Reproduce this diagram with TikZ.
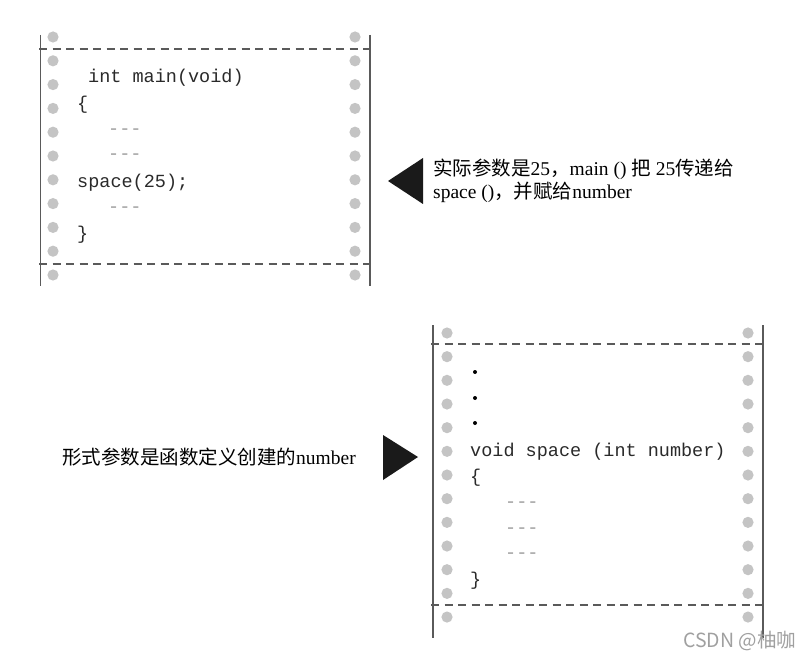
\documentclass[tikz,border=0pt]{standalone}
\usepackage{fontspec}
\setmainfont{Liberation Serif}
\setmonofont{Liberation Mono}
\newfontfamily\cjk{Noto Sans CJK SC}
\usepackage{tikz}
\usetikzlibrary{positioning}
\definecolor{ink}{HTML}{2A2A2A}
\definecolor{rail}{HTML}{5A5A5A}
\definecolor{hole}{HTML}{C4C4C4}
\definecolor{dim}{HTML}{9C9C9C}
\definecolor{mark}{HTML}{A0A0A0}
\definecolor{pointer}{HTML}{1A1A1A}

\tikzset{
  code/.style={anchor=base west,inner sep=0pt,text=ink,font=\ttfamily\fontsize{18.5}{20}\selectfont},
  filler/.style={code,text=dim},
  note/.style={anchor=west,inner sep=0pt,text=black,align=left,font=\fontsize{19.5}{23}\selectfont},
  rim/.style={rail,line width=1.4pt},
  cut/.style={rail,line width=1.3pt,dash pattern=on 8pt off 5.5pt},
}

\begin{document}
\begin{tikzpicture}[x=1pt,y=-1pt]
\useasboundingbox (0,0) rectangle (810,660);
\draw[rim] (40.5,35) -- (40.5,286);
\draw[rim] (370,35) -- (370,286);
\draw[cut] (39,49) -- (372,49);
\draw[cut] (39,264) -- (372,264);
\foreach \i in {0,...,10} {
  \fill[hole] (53,37+23.8*\i) circle (5.6);
  \fill[hole] (355,37+23.8*\i) circle (5.6);
}
\node[code] (main) at (88,83) {int main(void)};
\node[code] (open1) at (77,110) {\{};
\node[filler] (body1) at (108,135) {-{}-{}-};
\node[filler] (body2) at (108,160) {-{}-{}-};
\node[code] (call) at (77,188) {space(25);};
\node[filler] (body3) at (108,213) {-{}-{}-};
\node[code] (close1) at (77,240) {\}};
\fill[pointer] (388,181) -- (423,158) -- (423,204) -- cycle;
\node[note] (actual) at (433,181) {{\cjk 实际参数是}25{\cjk ，}main () {\cjk 把} 25{\cjk 传递给}\\space (){\cjk ，并赋给}number};
\draw[rim] (433,325) -- (433,638);
\draw[rim] (763,325) -- (763,638);
\draw[cut] (431,344) -- (765,344);
\draw[cut] (431,605) -- (765,605);
\foreach \i in {0,...,12} {
  \fill[hole] (447,333+23.67*\i) circle (5.6);
  \fill[hole] (748,333+23.67*\i) circle (5.6);
}
\fill[black] (475,372) circle (2);
\fill[black] (475,398) circle (2);
\fill[black] (475,423) circle (2);
\node[code] (head) at (470,456) {void space (int number)};
\node[code] (open2) at (470,482) {\{};
\node[filler] (body4) at (505,507) {-{}-{}-};
\node[filler] (body5) at (505,533) {-{}-{}-};
\node[filler] (body6) at (505,558) {-{}-{}-};
\node[code] (close2) at (470,585) {\}};
\fill[pointer] (383,435) -- (418,457) -- (383,480) -- cycle;
\node[note] (formal) at (62,457) {{\cjk 形式参数是函数定义创建的}number};
\node[anchor=west,inner sep=0pt,text=mark,font=\cjk\fontsize{19.5}{20}\selectfont] (wm) at (683,641) {CSDN @柚咖};
\end{tikzpicture}
\end{document}
